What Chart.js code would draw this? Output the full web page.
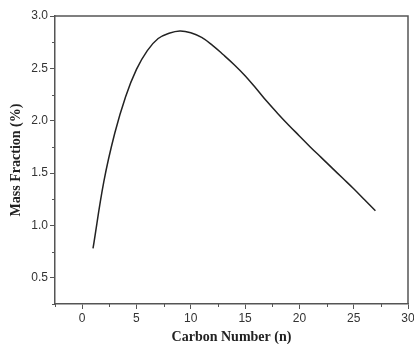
<!DOCTYPE html>
<html>
<head>
<meta charset="utf-8">
<script src="https://cdn.jsdelivr.net/npm/chart.js@4.4.0/dist/chart.umd.min.js"></script>
<style>
  html,body{margin:0;padding:0;background:#fff;overflow:hidden}
  #wrap{width:414px;height:344px;position:relative}
</style>
</head>
<body>
<div id="wrap"><canvas id="c" width="414" height="344"></canvas></div>
<script>
// carbon number n and mass fraction (%)
const carbonNumber = [1,2,3,4,5,6,7,8,9,10,11,12,13,14,15,16,17,18,19,20,21,22,23,24,25,26,27];
const massFraction = [0.78,1.42,1.88,2.23,2.49,2.67,2.785,2.835,2.857,2.84,2.795,2.72,2.63,2.535,2.43,2.31,2.185,2.07,1.96,1.855,1.75,1.65,1.55,1.45,1.35,1.245,1.14];
const xRange = [-2.5, 30];
const yRange = [0.25, 3.0];

const axisCol = '#555', tickCol = '#333';
const isMajorX = v => Math.abs(v/5 - Math.round(v/5)) < 1e-6;
const isMajorY = v => Math.abs(v/0.5 - Math.round(v/0.5)) < 1e-6;

// frame on top/right + short minor ticks
const frame = {
  id:'frame',
  afterDraw(chart){
    const {ctx, chartArea:a, scales:{x,y}} = chart;
    ctx.save();
    ctx.strokeStyle = axisCol; ctx.lineWidth = 1.5;
    ctx.beginPath();
    ctx.moveTo(a.left, a.top); ctx.lineTo(a.right, a.top); ctx.lineTo(a.right, a.bottom);
    ctx.stroke();
    ctx.lineWidth = 1;
    ctx.beginPath();
    x.ticks.forEach(t=>{
      if(isMajorX(t.value)) return;
      const px = Math.round(x.getPixelForValue(t.value))+0.5;
      ctx.moveTo(px, a.bottom); ctx.lineTo(px, a.bottom+3);
    });
    y.ticks.forEach(t=>{
      if(isMajorY(t.value)) return;
      const py = Math.round(y.getPixelForValue(t.value))+0.5;
      ctx.moveTo(a.left, py); ctx.lineTo(a.left-3, py);
    });
    ctx.stroke();
    ctx.restore();
  }
};

new Chart(document.getElementById('c'), {
  type:'line',
  data:{
    datasets:[{
      data: carbonNumber.map((n,i)=>({x:n, y:massFraction[i]})),
      borderColor:'#222', borderWidth:1.5, pointRadius:0,
      tension:0.4, fill:false
    }]
  },
  options:{
    responsive:false, animation:false,
    layout:{padding:{left:0, right:6, top:16, bottom:0}},
    plugins:{legend:{display:false}, tooltip:{enabled:false}},
    scales:{
      x:{
        type:'linear', min:xRange[0], max:xRange[1],
        border:{color:axisCol, width:1.5},
        grid:{drawOnChartArea:false, tickLength:5, tickColor:c=>isMajorX(c.tick.value)?axisCol:'rgba(0,0,0,0)'},
        ticks:{stepSize:2.5, autoSkip:false, maxRotation:0, padding:2, color:tickCol,
          font:{family:'Liberation Sans', size:12},
          callback:v=>isMajorX(v)&&v>=0?String(v):''},
        title:{display:true, text:'Carbon Number (n)', color:'#222', padding:{top:0,bottom:0},
          font:{family:'Liberation Serif', size:14, weight:'bold', lineHeight:1.0}},
        afterFit(s){ s.height = 40; s.paddingLeft = 0; s.paddingRight = 0; }
      },
      y:{
        type:'linear', min:yRange[0], max:yRange[1],
        border:{color:axisCol, width:1.5},
        grid:{drawOnChartArea:false, tickLength:5, tickColor:c=>isMajorY(c.tick.value)?axisCol:'rgba(0,0,0,0)'},
        ticks:{stepSize:0.25, autoSkip:false, padding:2, color:tickCol,
          font:{family:'Liberation Sans', size:12},
          callback:v=>isMajorY(v)?v.toFixed(1):''},
        title:{display:true, text:'Mass Fraction (%)', color:'#222', padding:{top:8,bottom:0},
          font:{family:'Liberation Serif', size:14, weight:'bold'}},
        afterFit(s){ s.width = 55; s.paddingTop = 0; s.paddingBottom = 0; }
      }
    }
  },
  plugins:[frame]
});
</script>
</body>
</html>
